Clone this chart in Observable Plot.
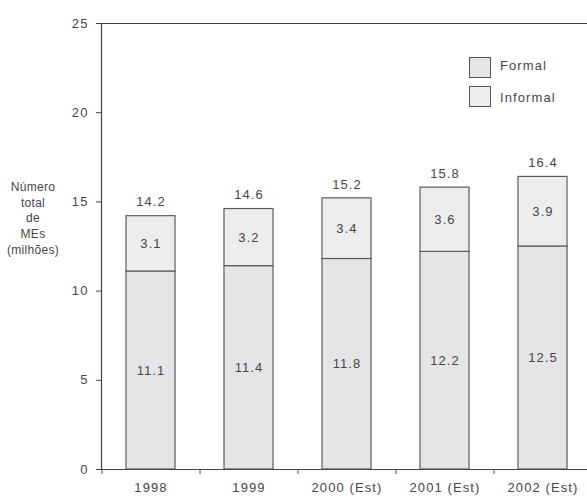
<!DOCTYPE html>
<html>
<head>
<meta charset="utf-8">
<script src="https://cdn.jsdelivr.net/npm/d3@7"></script>
<script src="https://cdn.jsdelivr.net/npm/@observablehq/plot@0.6"></script>
<style>
  html, body { margin: 0; padding: 0; background: #fff; }
  #wrap { position: relative; width: 587px; height: 502px; font-family: "Liberation Sans", Arial, sans-serif; color: #464646; }
  #ylabel { position: absolute; left: 0; top: 180px; width: 66px; text-align: center; font-size: 12px; line-height: 15.7px; letter-spacing: 0.3px; }
  .leg { position: absolute; left: 469px; font-size: 13px; letter-spacing: 1.1px; }
  .leg span.sw { position: absolute; left: 0; width: 20px; height: 19px; border: 1px solid #555; }
  .leg span.lb { position: absolute; left: 31px; white-space: nowrap; }
  svg text { letter-spacing: 1.1px; }
</style>
</head>
<body>
<div id="wrap">
  <div id="chart"></div>
  <div id="ylabel">Número<br>total<br>de<br>MEs<br>(milhões)</div>
  <div id="legend"></div>
</div>
<script>
const years = ["1998", "1999", "2000 (Est)", "2001 (Est)", "2002 (Est)"];
const formal = [11.1, 11.4, 11.8, 12.2, 12.5];
const informal = [3.1, 3.2, 3.4, 3.6, 3.9];
const totals = [14.2, 14.6, 15.2, 15.8, 16.4];
const seriesNames = ["Formal", "Informal"];
const seriesColors = ["#e4e5e7", "#ecedec"];
const yTicks = [0, 5, 10, 15, 20, 25];

const rows = [];
years.forEach((yr, i) => {
  rows.push({year: yr, series: "Formal", value: formal[i]});
  rows.push({year: yr, series: "Informal", value: informal[i]});
});
const totalRows = years.map((yr, i) => ({year: yr, total: totals[i]}));

const stroke = "#5c5c5c";
const txt = "#464646";
const chart = Plot.plot({
  width: 587,
  height: 502,
  marginTop: 23,
  marginBottom: 33,
  marginLeft: 101,
  marginRight: 0,
  style: {fontFamily: "Liberation Sans, Arial, sans-serif", fontSize: "13px", color: txt, background: "#fff"},
  x: {type: "band", domain: years, range: [101, 591], paddingInner: 0.5, paddingOuter: 0.25},
  y: {domain: [0, 25]},
  color: {domain: seriesNames, range: seriesColors},
  marks: [
    Plot.barY(rows, Plot.stackY({x: "year", y: "value", fill: "series", stroke: stroke, strokeWidth: 1.2})),
    Plot.text(rows, Plot.stackY({x: "year", y: "value", text: d => d.value.toFixed(1), fill: txt, fontSize: 13})),
    Plot.text(totalRows, {x: "year", y: "total", text: d => d.total.toFixed(1), dy: -14, fill: txt, fontSize: 13}),
    Plot.ruleY([25], {stroke: "#444", strokeWidth: 1.2}),
    Plot.ruleY([0], {stroke: "#444", strokeWidth: 1.2}),
    Plot.frame({anchor: "left", stroke: "#444", strokeWidth: 1.2}),
    Plot.ruleX(years, {x: d => d, y1: 0, y2: 0, insetBottom: -5, dx: -49, stroke: "#444"}),
    Plot.axisY({ticks: yTicks, tickSize: 5, tickPadding: 8, stroke: "#444", fill: txt, fontSize: 13, label: null}),
    Plot.axisX({tickSize: 0, tickPadding: 13, fill: txt, fontSize: 13, label: null})
  ]
});
document.getElementById("chart").appendChild(chart);

const legend = document.getElementById("legend");
const legTops = [57, 86];
const labelOffsets = [1, 4];
seriesNames.forEach((name, i) => {
  const d = document.createElement("div");
  d.className = "leg";
  d.style.top = legTops[i] + "px";
  d.innerHTML = `<span class="sw" style="background:${seriesColors[i]}"></span><span class="lb" style="top:${labelOffsets[i]}px">${name}</span>`;
  legend.appendChild(d);
});
</script>
</body>
</html>
